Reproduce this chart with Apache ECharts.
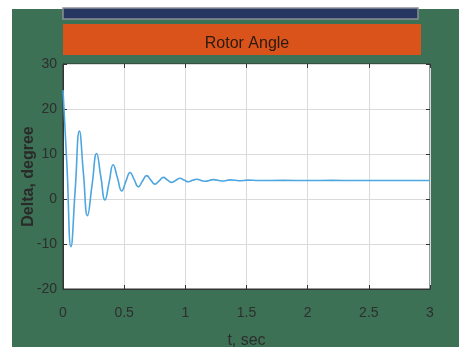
<!DOCTYPE html>
<html><head><meta charset="utf-8">
<script src="https://cdn.jsdelivr.net/npm/echarts@6/dist/echarts.min.js"></script>
<style>html,body{margin:0;padding:0;background:#fff}#c{width:459px;height:347px}</style>
</head><body><div id="c"></div>
<script>
const titleText = "Rotor Angle";
const xName = "t, sec";
const yName = "Delta, degree";
const xTicks = [0, 0.5, 1, 1.5, 2, 2.5, 3];
const yTicks = [-20, -10, 0, 10, 20, 30];
const tValues = [0, 0.033, 0.065, 0.10, 0.134, 0.167, 0.200, 0.238, 0.275, 0.309, 0.343, 0.377, 0.41, 0.445, 0.48, 0.514, 0.548, 0.582, 0.616, 0.65, 0.684, 0.718, 0.752, 0.786, 0.82, 0.855, 0.89, 0.923, 0.956, 0.99, 1.025, 1.06, 1.09, 1.16, 1.23, 1.3, 1.37, 1.44, 1.51, 1.6, 1.8, 2.0, 2.2, 2.4, 2.6, 2.8, 3.0];
const deltaValues = [24.2, 7.0, -10.6, 2.2, 15.1, 5.7, -3.7, 3.2, 10.1, 5.0, -0.2, 3.7, 7.6, 4.7, 1.8, 3.9, 5.9, 4.3, 2.7, 4.0, 5.2, 4.2, 3.3, 4.05, 4.8, 4.2, 3.7, 4.15, 4.6, 4.2, 3.85, 4.15, 4.4, 3.95, 4.3, 4.0, 4.25, 4.05, 4.2, 4.1, 4.15, 4.1, 4.15, 4.1, 4.1, 4.1, 4.1];

const chart = echarts.init(document.getElementById('c'), null, {renderer: 'canvas'});
const labelFont = {color: '#2e2e2e', fontSize: 14, fontFamily: 'Liberation Sans, Arial'};
chart.setOption({
  backgroundColor: '#ffffff',
  animation: false,
  graphic: [
    {type: 'rect', shape: {x: 12, y: 9, width: 447, height: 338}, style: {fill: '#3c7155'}, z: -10},
    {type: 'rect', shape: {x: 63, y: 8, width: 355, height: 11}, style: {fill: '#263660', stroke: '#8a8f96', lineWidth: 1.5}, z: -5},
    {type: 'rect', shape: {x: 63, y: 24, width: 358, height: 31}, style: {fill: '#d9531a'}, z: -5}
  ],
  title: {
    text: titleText, left: 242, top: 39, textAlign: 'center', textVerticalAlign: 'middle',
    textStyle: {color: '#2a1a10', fontSize: 16, fontWeight: 'normal', fontFamily: 'Liberation Sans, Arial'}
  },
  grid: {left: 63, top: 64, width: 367, height: 225, containLabel: false, outerBoundsMode: 'none', show: true, backgroundColor: '#ffffff', borderColor: '#333333', borderWidth: 1},
  xAxis: [{
    type: 'value', min: 0, max: 3, interval: 0.5,
    name: xName, nameLocation: 'middle', nameGap: 44, nameMoveOverlap: false,
    nameTextStyle: {color: '#2e2e2e', fontSize: 16, fontFamily: 'Liberation Sans, Arial'},
    axisLine: {show: true, onZero: false, lineStyle: {color: '#333333'}},
    axisTick: {show: true, inside: true, length: 4, lineStyle: {color: '#333333'}},
    axisLabel: Object.assign({margin: 17, formatter: v => xTicks.includes(v) ? String(v) : ''}, labelFont),
    splitLine: {show: true, lineStyle: {color: '#dadada', width: 1}}
  }, {
    type: 'value', min: 0, max: 3, interval: 0.5, position: 'top',
    axisLine: {show: false, onZero: false}, axisLabel: {show: false}, splitLine: {show: false},
    axisTick: {show: true, inside: true, length: 4, lineStyle: {color: '#333333'}}
  }],
  yAxis: [{
    type: 'value', min: -20, max: 30, interval: 10,
    name: yName, nameLocation: 'middle', nameGap: 26, nameMoveOverlap: false,
    nameTextStyle: {color: '#2a2a2a', fontSize: 16, fontWeight: 'bold', fontFamily: 'Liberation Sans, Arial'},
    axisLine: {show: true, onZero: false, lineStyle: {color: '#333333'}},
    axisTick: {show: true, inside: true, length: 4, lineStyle: {color: '#333333'}},
    axisLabel: Object.assign({margin: 6, formatter: v => yTicks.includes(v) ? String(v) : ''}, labelFont),
    splitLine: {show: true, lineStyle: {color: '#dadada', width: 1}}
  }, {
    type: 'value', min: -20, max: 30, interval: 10, position: 'right',
    axisLine: {show: false, onZero: false}, axisLabel: {show: false}, splitLine: {show: false},
    axisTick: {show: true, inside: true, length: 4, lineStyle: {color: '#333333'}}
  }],
  series: [{
    type: 'line', xAxisIndex: 0, yAxisIndex: 0,
    data: tValues.map((t, i) => [t, deltaValues[i]]),
    showSymbol: false, smooth: 0.5,
    lineStyle: {color: '#4ea6e0', width: 1.6}
  }]
});
</script></body></html>
